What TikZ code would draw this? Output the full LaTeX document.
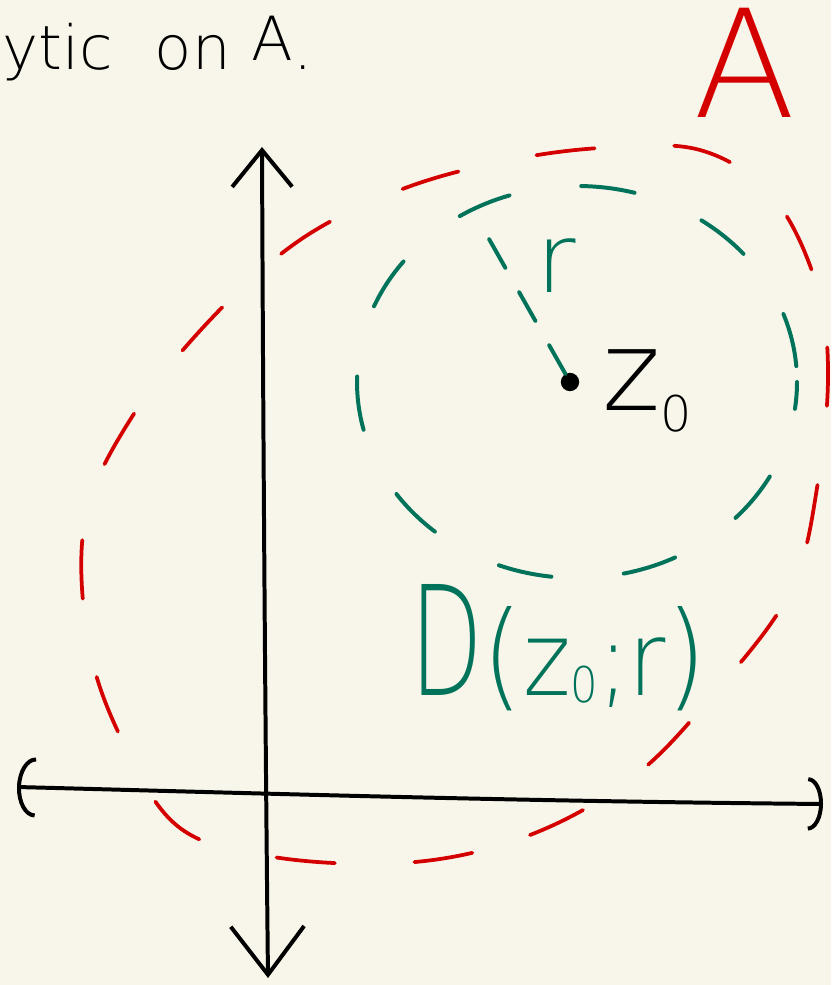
\documentclass[tikz,border=0pt]{standalone}
\usepackage{fontspec}
\setmainfont{DejaVu Sans ExtraLight}
\usetikzlibrary{arrows.meta}
\definecolor{paper}{HTML}{F8F6EA}
\definecolor{inkred}{HTML}{D40000}
\definecolor{inkgreen}{HTML}{00735A}
\newcommand{\hand}[1]{\fontsize{#1}{#1}\selectfont}

\begin{document}
\begin{tikzpicture}[x=0.03cm,y=-0.03cm,
  axis/.style={line width=3.4pt,line cap=round,black},
  regiondash/.style={inkred,line width=3.2pt,line cap=round,dash pattern=on 50pt off 68pt},
  diskdash/.style={inkgreen,line width=3.4pt,line cap=round,dash pattern=on 46pt off 62pt},
  raddash/.style={inkgreen,line width=3.4pt,line cap=round,dash pattern=on 28pt off 24pt},
  label/.style={inner sep=0pt,anchor=base west}]
\fill[paper] (0,0) rectangle (831,985);
\useasboundingbox (0,0) rectangle (831,985);
% axes
\coordinate (xlo) at (17,787);
\coordinate (xhi) at (823,804);
\coordinate (ylo) at (268,978);
\coordinate (yhi) at (262,147);
\draw[axis,{Arc Barb[length=0.55cm,width=1.8cm]}-{Arc Barb[length=0.45cm,width=1.6cm]}]
  (xlo) .. controls (250,793) and (500,801) .. (xhi);
\draw[axis,{Straight Barb[length=1.45cm,width=2.2cm]}-{Straight Barb[length=1.1cm,width=1.8cm]}]
  (ylo) .. controls (265,700) and (263,400) .. (yhi);
% region A
\draw[regiondash] plot[smooth cycle,tension=0.6] coordinates {
  (415,862) (530,835) (632,778) (712,696) (790,592) (818,482) (828,368)
  (815,280) (772,196) (700,150) (600,148) (500,162) (400,190) (300,240)
  (210,320) (130,420) (85,520) (88,640) (122,740) (180,828) (280,858)};
% disk
\coordinate (c) at (577,382);
\draw[diskdash,dash phase=23pt] (c) ellipse [x radius=220,y radius=196];
\node[circle,fill=black,inner sep=0pt,minimum size=0.55cm] (z0) at (570,382) {};
\coordinate (rim) at (476,216);
\draw[raddash] (z0) -- (rim);
% labels
\node[label] (head) at (2,70)
  {\hand{52}ytic\hspace{36pt}on\hspace{18pt}\raisebox{8pt}{A}.};
\node[label,inkred,anchor=base] (Alabel) at (745,118) {\hand{128}A};
\node[label,inkgreen] (rlabel) at (536,292) {\hand{82}r};
\node[label] (z0label) at (602,410) {\hand{95}z\raisebox{-18pt}{\hand{42}0}};
\node[label,inkgreen] (Dlabel) at (410,695)
  {\scalebox{0.62}[1]{\hand{130}D}\scalebox{0.88}[1]{\hand{100}(\hand{88}z\raisebox{-6pt}{\hand{42}0};r\hand{100})}};
\end{tikzpicture}
\end{document}
